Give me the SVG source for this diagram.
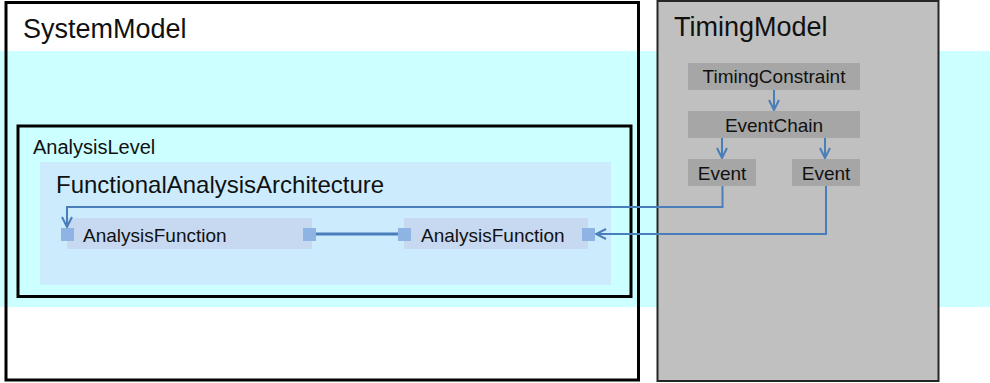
<svg xmlns="http://www.w3.org/2000/svg" width="990" height="383" viewBox="0 0 990 383">
  <style>
    text { font-family: "Liberation Sans", Arial, sans-serif; fill: #111; }
    .title { font-size: 27px; }
    .lvl { font-size: 20px; }
    .arch { font-size: 24px; }
    .fn { font-size: 19px; }
    .tm { font-size: 19px; text-anchor: middle; }
    .tbox { fill: #a6a6a6; }
    .port { fill: #8eb4e3; }
    .func { fill: #c6d9f1; }
    .link { fill: none; stroke: #4a7ebb; stroke-width: 2; }
    .assoc { fill: none; stroke: #4a7ebb; stroke-width: 3; }
  </style>
  <defs>
    <marker id="open" viewBox="0 0 12 12" refX="11" refY="6" markerWidth="12" markerHeight="12" markerUnits="userSpaceOnUse" orient="auto">
      <path d="M1,1 L11,6 L1,11" fill="none" stroke="#4a7ebb" stroke-width="2"/>
    </marker>
  </defs>

  <rect x="0" y="0" width="990" height="383" fill="#ffffff"/>
  <!-- background band -->
  <rect x="0" y="51" width="990" height="256" fill="#ccffff"/>

  <g id="SystemModel">
    <rect x="6" y="2.5" width="632.5" height="377.5" fill="none" stroke="#000" stroke-width="3"/>
    <text class="title" x="23" y="38">SystemModel</text>
  </g>

  <g id="AnalysisLevel">
    <rect x="18" y="126" width="613" height="170.5" fill="#ccffff" stroke="#000" stroke-width="3"/>
    <text class="lvl" x="33" y="154">AnalysisLevel</text>
  </g>

  <g id="FunctionalAnalysisArchitecture">
    <rect x="40" y="162" width="571" height="123" fill="#ccecfe"/>
    <text class="arch" x="56" y="193">FunctionalAnalysisArchitecture</text>
  </g>

  <g id="AnalysisFunction1">
    <rect class="func" x="67" y="218" width="245" height="31"/>
    <rect class="port" x="61" y="228" width="13" height="13"/>
    <rect class="port" x="303" y="228" width="13" height="13"/>
    <text class="fn" x="83" y="242">AnalysisFunction</text>
  </g>

  <g id="AnalysisFunction2">
    <rect class="func" x="404" y="218" width="184" height="31"/>
    <rect class="port" x="398" y="228" width="13" height="13"/>
    <rect class="port" x="582" y="228" width="13" height="13"/>
    <text class="fn" x="421" y="242">AnalysisFunction</text>
  </g>

  <g id="TimingModel">
    <rect x="657.5" y="1" width="281" height="380" fill="#c0c0c0" stroke="#262626" stroke-width="2"/>
    <text class="title" x="674" y="36">TimingModel</text>
  </g>

  <g id="TimingConstraint">
    <rect class="tbox" x="688" y="63" width="172" height="27"/>
    <text class="tm" x="774" y="83">TimingConstraint</text>
  </g>

  <g id="EventChain">
    <rect class="tbox" x="688" y="111" width="172" height="27"/>
    <text class="tm" x="774" y="132">EventChain</text>
  </g>

  <g id="Event1">
    <rect class="tbox" x="688" y="159" width="68" height="27"/>
    <text class="tm" x="722" y="180">Event</text>
  </g>

  <g id="Event2">
    <rect class="tbox" x="792" y="159" width="68" height="27"/>
    <text class="tm" x="826" y="180">Event</text>
  </g>

  <g id="connectors">
    <line class="assoc" x1="316" y1="234" x2="398" y2="234"/>
    <line class="link" x1="774" y1="90" x2="774" y2="110" marker-end="url(#open)"/>
    <line class="link" x1="722" y1="138" x2="722" y2="158" marker-end="url(#open)"/>
    <line class="link" x1="825" y1="138" x2="825" y2="158" marker-end="url(#open)"/>
    <polyline class="link" points="722.5,186 722.5,207 67,207 67,227" marker-end="url(#open)"/>
    <polyline class="link" points="826,186 826,234 596,234" marker-end="url(#open)"/>
  </g>
</svg>
